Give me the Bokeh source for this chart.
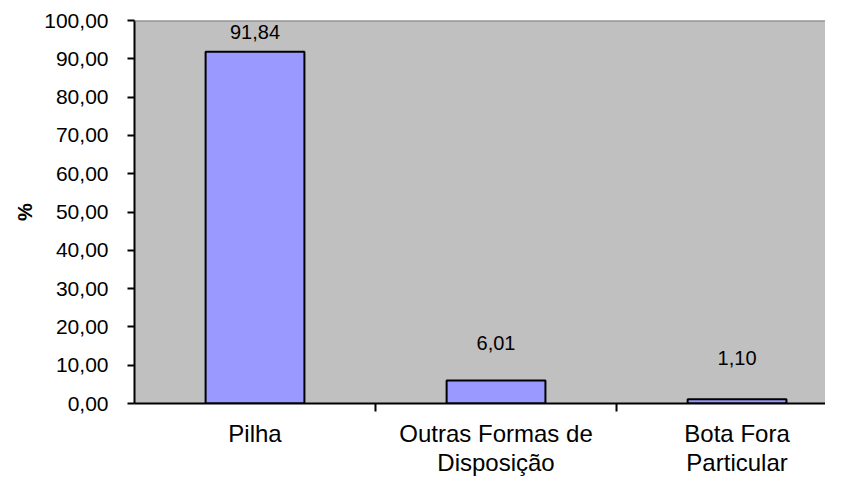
from bokeh.plotting import figure
from bokeh.models import (ColumnDataSource, FixedTicker, CustomJSTickFormatter,
                          LabelSet, Span, Range1d)
from bokeh.core.properties import value
from bokeh.embed import file_html
from bokeh.resources import INLINE

# ---- data ----
categories = ["Pilha", "Outras Formas de\nDisposição", "Bota Fora\nParticular"]
values = [91.84, 6.01, 1.10]
y_ticks = [0, 10, 20, 30, 40, 50, 60, 70, 80, 90, 100]
y_label = "%"

# ---- style ----
FONT = "Liberation Sans"
label_offsets = [20, 37, 41]   # px above bar top

xs = [i + 1 for i in range(len(categories))]
src = ColumnDataSource(dict(
    x=xs,
    top=values,
    txt=[f"{v:.2f}".replace(".", ",") for v in values],
    off=label_offsets,
))

p = figure(width=825, height=479, output_backend="svg", toolbar_location=None,
           x_range=Range1d(0.5, 3.367), y_range=Range1d(0, 100),
           min_border_left=134, min_border_right=0, min_border_top=20,
           min_border_bottom=75)
p.background_fill_color = "#c0c0c0"
p.border_fill_color = "white"
p.outline_line_color = None
p.grid.visible = False

p.vbar(x="x", top="top", width=0.41, source=src,
       fill_color="#9999ff", line_color="black", line_width=2)

p.add_layout(Span(location=100, dimension="width", line_color="#808080",
                  line_width=2))

labels = LabelSet(x="x", y="top", text="txt", y_offset="off", source=src,
                  text_align="center", text_baseline="middle",
                  text_font=value(FONT), text_font_size="20px", text_color="black")
p.add_layout(labels)

# x axis
xa = p.xaxis[0]
xa.ticker = FixedTicker(ticks=xs, minor_ticks=[1.5, 2.5])
xa.major_label_overrides = {x: c for x, c in zip(xs, categories)}
xa.major_tick_line_color = None
xa.major_tick_in = 0
xa.major_tick_out = 0
xa.minor_tick_line_color = "black"
xa.minor_tick_line_width = 2
xa.minor_tick_in = 0
xa.minor_tick_out = 8
xa.axis_line_color = "black"
xa.axis_line_width = 2
xa.major_label_text_font = FONT
xa.major_label_text_font_size = "24px"
xa.major_label_text_line_height = 1.1
xa.major_label_text_color = "black"
xa.major_label_standoff = 8

# y axis
ya = p.yaxis[0]
ya.ticker = FixedTicker(ticks=y_ticks)
ya.formatter = CustomJSTickFormatter(code="return tick.toFixed(2).replace('.', ',');")
ya.minor_tick_line_color = None
ya.major_tick_line_color = "black"
ya.major_tick_line_width = 2
ya.major_tick_in = 0
ya.major_tick_out = 7
ya.axis_line_color = "black"
ya.axis_line_width = 2
ya.major_label_text_font = FONT
ya.major_label_text_font_size = "21px"
ya.major_label_text_color = "black"
ya.major_label_standoff = 19
ya.axis_label = y_label
ya.axis_label_text_font = FONT
ya.axis_label_text_font_style = "bold"
ya.axis_label_text_font_size = "20px"
ya.axis_label_text_color = "black"
ya.axis_label_standoff = 5

open("out.html", "w").write(file_html(p, INLINE))
